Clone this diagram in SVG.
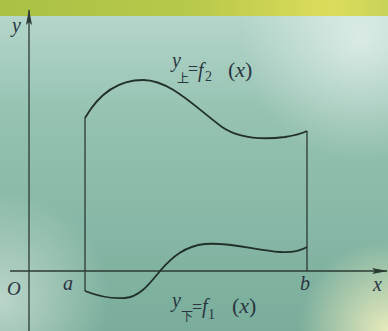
<svg xmlns="http://www.w3.org/2000/svg" width="388" height="331" viewBox="0 0 388 331">
<defs>
<linearGradient id="bg" x1="0" y1="0" x2="0" y2="1">
<stop offset="0" stop-color="#b9d9cf"/>
<stop offset="0.35" stop-color="#95c2b1"/>
<stop offset="1" stop-color="#7aad9b"/>
</linearGradient>
<linearGradient id="band" x1="0" y1="0" x2="1" y2="0">
<stop offset="0" stop-color="#a9c146"/>
<stop offset="0.5" stop-color="#b9c94a"/>
<stop offset="0.85" stop-color="#dcdc5c"/>
<stop offset="1" stop-color="#c8d458"/>
</linearGradient>
<radialGradient id="glareTR" cx="360" cy="40" r="120" gradientUnits="userSpaceOnUse">
<stop offset="0" stop-color="#ffffff" stop-opacity="0.55"/>
<stop offset="1" stop-color="#ffffff" stop-opacity="0"/>
</radialGradient>
<radialGradient id="glareBR" cx="388" cy="331" r="90" gradientUnits="userSpaceOnUse">
<stop offset="0" stop-color="#f4f2c0" stop-opacity="0.9"/>
<stop offset="1" stop-color="#f4f2c0" stop-opacity="0"/>
</radialGradient>
<radialGradient id="glareBL" cx="0" cy="300" r="110" gradientUnits="userSpaceOnUse">
<stop offset="0" stop-color="#d5e6dc" stop-opacity="0.7"/>
<stop offset="1" stop-color="#d5e6dc" stop-opacity="0"/>
</radialGradient>
<marker id="arr" viewBox="0 0 16 8" refX="15" refY="4" markerWidth="16" markerHeight="8" markerUnits="userSpaceOnUse" orient="auto">
<path d="M0,1 L16,4 L0,7 L3,4 Z" fill="#2b3a33"/>
</marker>
<style>
.ax{stroke:#2b3a33;stroke-width:1.3;fill:none}
.cv{stroke:#22302a;stroke-width:1.8;fill:none;stroke-linejoin:round}
.ln{stroke:#2b3a33;stroke-width:1.3;fill:none}
.t{font-family:"Liberation Serif","Times New Roman",serif;font-style:italic;fill:#2a3642}
.n{font-family:"Liberation Serif","Times New Roman",serif;font-style:normal;fill:#2a3642}
.c{font-family:"Noto Sans CJK SC",sans-serif;fill:#2a3642}
</style>
</defs>
<g id="background">
<rect x="0" y="0" width="388" height="331" fill="url(#bg)"/>
<rect x="0" y="0" width="388" height="331" fill="url(#glareTR)"/>
<rect x="0" y="0" width="388" height="331" fill="url(#glareBL)"/>
<rect x="0" y="0" width="388" height="331" fill="url(#glareBR)"/>
<rect x="0" y="0" width="388" height="16" fill="url(#band)"/>
</g>
<g id="connectors">
<line class="ax" x1="29" y1="331" x2="29" y2="10" marker-end="url(#arr)"/>
<line class="ax" x1="10" y1="271" x2="387" y2="271" marker-end="url(#arr)"/>
</g>
<g id="region">
<line class="ln" x1="85" y1="118" x2="85" y2="291"/>
<line class="ln" x1="307" y1="131" x2="307" y2="271"/>
<path class="cv" d="M85,118 C100,92 120,80 143,80 C170,80 195,107 222,127 C238,138 260,140 285,137 C298,135 303,133 307,131"/>
<path class="cv" d="M85,291 C95,295 110,299 125,298 C140,297 150,283 160,271 C172,257 185,246 205,244 C230,242 255,250 280,252 C295,253 302,250 307,247"/>
</g>
<g id="labels">
<text class="t" x="12" y="32" font-size="20">y</text>
<text class="t" x="7" y="295" font-size="19">O</text>
<text class="t" x="63" y="290" font-size="20">a</text>
<text class="t" x="300" y="290" font-size="20">b</text>
<text class="t" x="373" y="291" font-size="20">x</text>
</g>
<g id="label-upper">
<text class="t" x="172" y="67" font-size="20">y</text>
<text class="c" x="177" y="83" font-size="12">上</text>
<text class="n" x="188" y="75" font-size="18">=</text>
<text class="t" x="198" y="77" font-size="20">f</text>
<text class="n" x="205" y="81" font-size="14">2</text>
<text class="n" x="228" y="77" font-size="22">(<tspan class="t">x</tspan>)</text>
</g>
<g id="label-lower">
<text class="t" x="172" y="307" font-size="20">y</text>
<text class="c" x="181" y="321" font-size="12">下</text>
<text class="n" x="192" y="313" font-size="18">=</text>
<text class="t" x="202" y="313" font-size="20">f</text>
<text class="n" x="208" y="319" font-size="14">1</text>
<text class="n" x="232" y="313" font-size="22">(<tspan class="t">x</tspan>)</text>
</g>
</svg>
